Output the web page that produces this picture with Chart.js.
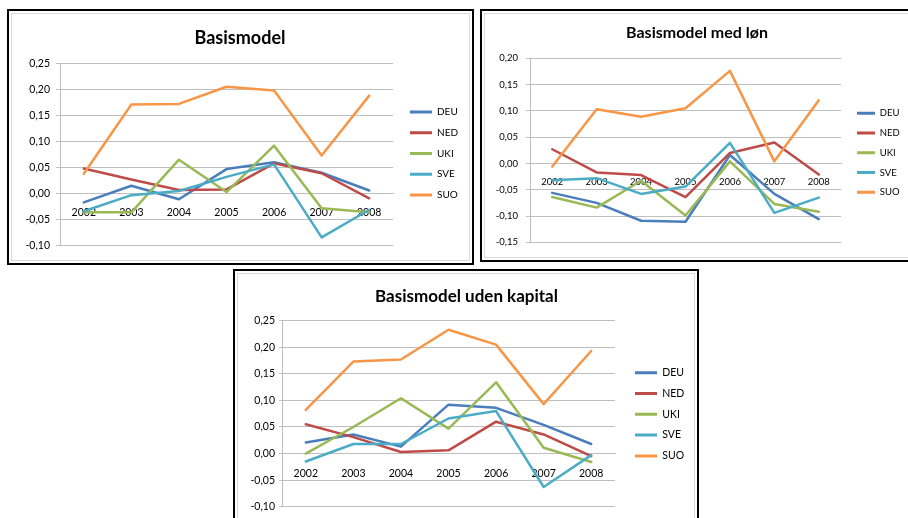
<!DOCTYPE html>
<html>
<head>
<meta charset="utf-8">
<script src="https://cdn.jsdelivr.net/npm/chart.js@4/dist/chart.umd.min.js"></script>
<style>
html,body{margin:0;padding:0;background:#fff;width:908px;height:518px;overflow:hidden;position:relative;}
.frame{position:absolute;border:2px solid #000;box-sizing:border-box;background:#fff;}
.inner{position:absolute;border:1.5px solid #d9d9d9;box-sizing:border-box;}
canvas{position:absolute;}
</style>
</head>
<body>
<div class="frame" style="left:7px;top:9px;width:467px;height:256px"></div>
<div class="inner" style="left:11px;top:13px;width:459px;height:248px"></div>
<div class="frame" style="left:480px;top:9px;width:440px;height:253px"></div>
<div class="inner" style="left:484px;top:13px;width:430px;height:245px"></div>
<div class="frame" style="left:233px;top:269px;width:466px;height:260px"></div>
<div class="inner" style="left:237px;top:273px;width:458px;height:250px"></div>
<canvas id="c1" width="456" height="244" style="left:12px;top:14px;width:456px;height:244px"></canvas>
<canvas id="c2" width="422" height="242" style="left:486px;top:14px;width:422px;height:242px"></canvas>
<canvas id="c3" width="455" height="243" style="left:239px;top:275px;width:455px;height:243px"></canvas>
<script>
// ---- data ----
const categories = ['2002','2003','2004','2005','2006','2007','2008'];
const seriesNames = ['DEU','NED','UKI','SVE','SUO'];
const seriesColors = ['#4A7EBB','#BE4B48','#98B954','#4BACC6','#F79646'];

// Basismodel
const basisDEU = [-0.017, 0.015, -0.011, 0.047, 0.060, 0.040, 0.006];
const basisNED = [0.048, 0.027, 0.007, 0.008, 0.058, 0.039, -0.009];
const basisUKI = [-0.036, -0.036, 0.065, 0.003, 0.092, -0.028, -0.036];
const basisSVE = [-0.034, -0.003, 0.005, 0.032, 0.056, -0.084, -0.031];
const basisSUO = [0.038, 0.171, 0.172, 0.205, 0.198, 0.073, 0.188];
const basisTicks = [-0.10, -0.05, 0.00, 0.05, 0.10, 0.15, 0.20, 0.25];

// Basismodel med løn
const lonDEU = [-0.056, -0.075, -0.109, -0.111, 0.016, -0.058, -0.106];
const lonNED = [0.027, -0.017, -0.022, -0.064, 0.020, 0.040, -0.021];
const lonUKI = [-0.064, -0.084, -0.033, -0.099, 0.004, -0.077, -0.092];
const lonSVE = [-0.032, -0.028, -0.058, -0.044, 0.039, -0.094, -0.065];
const lonSUO = [-0.006, 0.103, 0.089, 0.105, 0.176, 0.004, 0.120];
const lonTicks = [-0.15, -0.10, -0.05, 0.00, 0.05, 0.10, 0.15, 0.20];

// Basismodel uden kapital
const kapDEU = [0.021, 0.036, 0.013, 0.092, 0.086, 0.054, 0.018];
const kapNED = [0.055, 0.031, 0.003, 0.006, 0.060, 0.036, -0.005];
const kapUKI = [0.000, 0.050, 0.104, 0.047, 0.134, 0.011, -0.016];
const kapSVE = [-0.015, 0.018, 0.018, 0.066, 0.080, -0.063, -0.003];
const kapSUO = [0.082, 0.173, 0.177, 0.233, 0.205, 0.093, 0.193];
const kapTicks = [-0.10, -0.05, 0.00, 0.05, 0.10, 0.15, 0.20, 0.25];

// ---- rendering ----
Chart.defaults.font.family = 'Lato, "Open Sans", sans-serif';
const gridColor = '#bfbfbf';

const legendNudge = {
  id: 'legendNudge',
  afterLayout(chart, args, opts) {
    const L = chart.legend;
    if (!L || opts.x == null) return;
    const nx = opts.x - opts.pad;
    const ny = opts.y - opts.fs / 2 - opts.pad;
    const dx = nx - L.left, dy = ny - L.top;
    L.left += dx; L.right += dx; L.top += dy; L.bottom += dy;
  }
};

function fmt(v) {
  return (Math.round(v * 100) / 100).toFixed(2).replace('.', ',');
}

function makeChart(id, title, values, yTicks, s) {
  const datasets = values.map((arr, i) => ({
    label: seriesNames[i],
    data: arr,
    borderColor: seriesColors[i],
    backgroundColor: seriesColors[i],
    borderWidth: 2.5,
    pointRadius: 0,
    pointHoverRadius: 0,
    tension: 0,
    fill: false,
    borderJoinStyle: 'round',
    borderCapStyle: 'round',
    order: values.length - 1 - i
  }));
  return new Chart(document.getElementById(id), {
    type: 'line',
    data: { labels: categories, datasets },
    plugins: [legendNudge],
    options: {
      responsive: false,
      animation: false,
      devicePixelRatio: 1,
      layout: { padding: { left: 0, right: 0, top: 0, bottom: s.padBottom } },
      plugins: {
        title: {
          display: true, text: title, color: '#000',
          font: { size: s.titleSize, weight: 'bold' },
          padding: { top: s.titleTop, bottom: s.titleBottom }
        },
        legend: {
          display: true, position: 'chartArea', align: 'start',
          labels: {
            color: '#000', font: { size: s.lfs }, padding: s.lpad,
            boxWidth: s.lbox, boxHeight: 3,
            sort: (a, b) => a.datasetIndex - b.datasetIndex,
            generateLabels(chart) {
              return Chart.defaults.plugins.legend.labels.generateLabels(chart)
                .map(l => Object.assign(l, { lineWidth: 0 }));
            }
          }
        },
        legendNudge: { x: s.lx, y: s.ly, pad: s.lpad, fs: s.lfs },
        tooltip: { enabled: false }
      },
      scales: {
        x: {
          type: 'category', offset: true, position: { y: 0 },
          grid: { display: false, drawTicks: false },
          border: { display: true, color: gridColor, width: 1 },
          ticks: { color: '#000', font: { size: s.tfs }, padding: s.xpad, maxRotation: 0, autoSkip: false }
        },
        y: {
          min: yTicks[0], max: yTicks[yTicks.length - 1],
          afterBuildTicks: (axis) => { axis.ticks = yTicks.map(v => ({ value: v })); },
          afterFit: (scale) => { scale.width = s.yWidth; },
          grid: { color: gridColor, lineWidth: 1, drawTicks: true, tickLength: s.tl },
          border: { display: true, color: gridColor, width: 1 },
          ticks: { color: '#000', font: { size: s.tfs }, padding: s.ypad, callback: (v) => fmt(v) }
        },
        legendSpace: {
          type: 'linear', position: 'right', display: true,
          grid: { display: false }, border: { display: false }, ticks: { display: false },
          afterFit: (scale) => { scale.width = s.rightSpace; }
        }
      }
    }
  });
}

makeChart('c1', 'Basismodel',
  [basisDEU, basisNED, basisUKI, basisSVE, basisSUO], basisTicks,
  { yWidth: 48, rightSpace: 75, padBottom: 10.7, titleSize: 18, titleTop: 13.2, titleBottom: 14.5,
    tfs: 10.5, tl: 4, ypad: 6, xpad: 13, lfs: 10, lpad: 10.75, lbox: 22, lx: 398, ly: 98 });

makeChart('c2', 'Basismodel med løn',
  [lonDEU, lonNED, lonUKI, lonSVE, lonSUO], lonTicks,
  { yWidth: 44, rightSpace: 67, padBottom: 9.3, titleSize: 16, titleTop: 9.4, titleBottom: 15.7,
    tfs: 9.5, tl: 4, ypad: 8, xpad: 13, lfs: 9.5, lpad: 10.25, lbox: 18, lx: 371, ly: 99.3 });

makeChart('c3', 'Basismodel uden kapital',
  [kapDEU, kapNED, kapUKI, kapSVE, kapSUO], kapTicks,
  { yWidth: 43, rightSpace: 79, padBottom: 11.3, titleSize: 17, titleTop: 11.5, titleBottom: 13.8,
    tfs: 10.5, tl: 3, ypad: 4, xpad: 14, lfs: 10.5, lpad: 10.3, lbox: 22, lx: 396, ly: 97.7 });
</script>
</body>
</html>
